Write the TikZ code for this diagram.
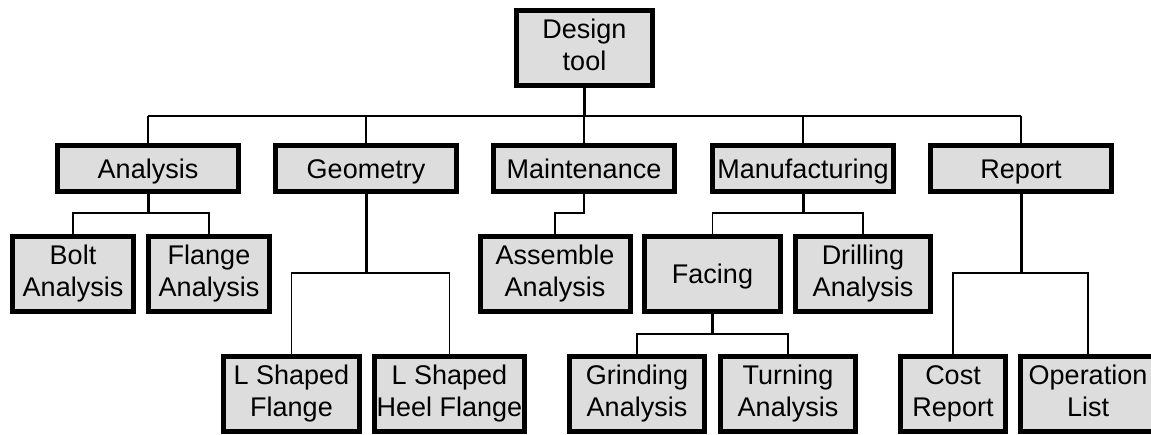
\documentclass[tikz,border=0pt]{standalone}
\usepackage{fontspec}
\setmainfont{Liberation Sans}
\newcommand{\lnstrut}{\rule[-6.5pt]{0pt}{32.3pt}}
\begin{document}
\begin{tikzpicture}[x=1pt,y=-1pt,
  box/.style={draw=black,line width=5pt,fill=boxgray,rectangle,inner sep=0pt,align=center,
    font=\fontsize{27}{32}\selectfont,
    execute at begin node=\lnstrut, execute at end node=\lnstrut},
  conn/.style={draw=black,line width=1.3pt},
  trunk/.style={draw=black,line width=3pt}]
\definecolor{boxgray}{RGB}{221,221,221}
\useasboundingbox (0,0) rectangle (1151,434);
\clip (0,0) rectangle (1151,434);
% level 0
\node[box,minimum width=136pt,minimum height=75pt] (design) at (584.5,48) {Design\\tool};
% level 1
\node[box,minimum width=181pt,minimum height=46pt] (analysis) at (148,168.5) {Analysis};
\node[box,minimum width=181pt,minimum height=46pt] (geometry) at (366,168.5) {Geometry};
\node[box,minimum width=181pt,minimum height=46pt] (maint) at (584,168.5) {Maintenance};
\node[box,minimum width=181pt,minimum height=46pt] (manuf) at (803,168.5) {Manufacturing};
\node[box,minimum width=181pt,minimum height=46pt] (report) at (1021,168.5) {Report};
% level 2
\node[box,minimum width=121pt,minimum height=75pt] (bolt) at (73,274) {Bolt\\Analysis};
\node[box,minimum width=121pt,minimum height=75pt] (flange) at (209,274) {Flange\\Analysis};
\node[box,minimum width=150pt,minimum height=75pt] (assemble) at (555,274) {Assemble\\Analysis};
\node[box,minimum width=136pt,minimum height=75pt] (facing) at (712.5,274) {Facing};
\node[box,minimum width=135pt,minimum height=75pt] (drilling) at (863,274) {Drilling\\Analysis};
% level 3
\node[box,minimum width=136pt,minimum height=75pt] (lsf) at (291.5,394) {L Shaped\\Flange};
\node[box,minimum width=150pt,minimum height=75pt] (lshf) at (449.5,394) {L Shaped\\Heel Flange};
\node[box,minimum width=135pt,minimum height=75pt] (grinding) at (637,394) {Grinding\\Analysis};
\node[box,minimum width=135pt,minimum height=75pt] (turning) at (788,394) {Turning\\Analysis};
\node[box,minimum width=105pt,minimum height=75pt] (cost) at (953,394) {Cost\\Report};
\node[box,minimum width=135pt,minimum height=75pt] (operation) at (1088,394) {Operation\\List};
% junction levels
\coordinate (bus) at (0,116);
\coordinate (jA) at (0,213);
\coordinate (jB) at (0,273);
\coordinate (jC) at (0,334);
% connectors from the root
\draw[trunk] (design.south) -- (design.south |- bus);
\draw[conn] (analysis.north |- bus) -- (report.north |- bus);
\foreach \n in {analysis,geometry,maint,manuf,report}
  \draw[conn] (\n.north) -- (\n.north |- bus);
% analysis
\draw[trunk] (analysis.south) -- (analysis.south |- jA);
\draw[conn] (bolt.north) |- (flange.north |- jA) -- (flange.north);
% geometry
\draw[trunk] (geometry.south) -- (geometry.south |- jB);
\draw[conn] (lsf.north) |- (lshf.north |- jB) -- (lshf.north);
% maintenance
\draw[conn] (maint.south) -- (maint.south |- jA) -| (assemble.north);
% manufacturing
\draw[trunk] (manuf.south) -- (manuf.south |- jA);
\draw[conn] (facing.north) |- (drilling.north |- jA) -- (drilling.north);
% facing
\draw[trunk] (facing.south) -- (facing.south |- jC);
\draw[conn] (grinding.north) |- (turning.north |- jC) -- (turning.north);
% report
\draw[trunk] (report.south) -- (report.south |- jB);
\draw[conn] (cost.north) |- (operation.north |- jB) -- (operation.north);
\end{tikzpicture}
\end{document}
